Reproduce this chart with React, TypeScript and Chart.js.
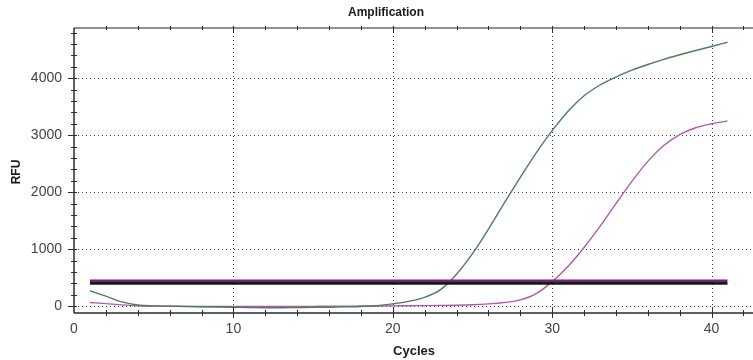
import React, { useEffect, useRef } from "react";
import { Chart, registerables } from "chart.js";

Chart.register(...registerables);

const cycles = [
  1, 2, 3, 4, 5, 6, 7, 8, 9, 10, 11, 12, 13, 14, 15, 16, 17, 18, 19, 20, 21,
  22, 23, 24, 25, 26, 27, 28, 29, 30, 31, 32, 33, 34, 35, 36, 37, 38, 39, 40, 41,
];
const greenRFU = [
  270, 175, 75, 20, 5, 0, -5, -10, -15, -20, -25, -28, -28, -25, -22, -18, -12,
  -5, 8, 40, 85, 155, 290, 560, 920, 1350, 1810, 2260, 2690, 3080, 3420, 3690,
  3880, 4020, 4140, 4240, 4330, 4410, 4485, 4555, 4630,
];
const purpleRFU = [
  65, 45, 22, 8, 2, 0, -3, -5, -5, -5, -5, -5, -5, -5, -3, 0, 0, 2, 3, 5, 8,
  10, 13, 17, 25, 40, 65, 110, 220, 430, 700, 1030, 1400, 1800, 2190, 2540,
  2820, 3010, 3130, 3200, 3250,
];
const thresholdCycles = [1, 41];
const purpleThreshold = 445;
const blackThreshold = 400;
const xTickValues = [0, 10, 20, 30, 40];
const yTickValues = [0, 1000, 2000, 3000, 4000];
const xMinorStep = 2;
const yMinorStep = 200;
const chartTitle = "Amplification";
const xTitle = "Cycles";
const yTitle = "RFU";

const FONT = "'Liberation Sans', Arial, Helvetica, sans-serif";

export default function App() {
  const ref = useRef<HTMLCanvasElement>(null);

  useEffect(() => {
    document.body.style.margin = "0";
    const canvas = ref.current;
    if (!canvas) return;

    const decor = {
      id: "decor",
      beforeDatasetsDraw(chart: any) {
        const { ctx, chartArea: a, scales } = chart;
        const x = scales.x;
        const y = scales.y;
        ctx.save();
        ctx.strokeStyle = "#3a3a3a";
        ctx.lineWidth = 1;
        ctx.setLineDash([1, 3]);
        yTickValues.forEach((v) => {
          const py = Math.round(y.getPixelForValue(v)) + 0.5;
          ctx.beginPath();
          ctx.moveTo(a.left, py);
          ctx.lineTo(a.right, py);
          ctx.stroke();
        });
        xTickValues.forEach((v) => {
          if (v === 0) return;
          const px = Math.round(x.getPixelForValue(v)) + 0.5;
          ctx.beginPath();
          ctx.moveTo(px, a.top);
          ctx.lineTo(px, a.bottom);
          ctx.stroke();
        });
        ctx.restore();
      },
      afterDraw(chart: any) {
        const { ctx, chartArea: a, scales } = chart;
        const x = scales.x;
        const y = scales.y;
        ctx.save();
        ctx.setLineDash([]);
        ctx.strokeStyle = "#2b2b2b";
        ctx.lineWidth = 1.5;
        ctx.beginPath();
        ctx.moveTo(a.left, a.top);
        ctx.lineTo(a.left, a.bottom);
        ctx.stroke();
        ctx.beginPath();
        ctx.moveTo(a.left, a.bottom);
        ctx.lineTo(a.right, a.bottom);
        ctx.stroke();
        ctx.lineWidth = 1.2;
        ctx.strokeStyle = "#222";
        ctx.beginPath();
        ctx.moveTo(a.left, a.top);
        ctx.lineTo(a.right, a.top);
        ctx.stroke();

        ctx.lineWidth = 1;
        ctx.strokeStyle = "#2b2b2b";
        const yStart = Math.ceil(y.min / yMinorStep) * yMinorStep;
        for (let v = yStart; v <= y.max; v += yMinorStep) {
          const py = Math.round(y.getPixelForValue(v)) + 0.5;
          const major = yTickValues.includes(v);
          ctx.beginPath();
          ctx.moveTo(a.left - (major ? 6 : 3), py);
          ctx.lineTo(a.left + 3, py);
          ctx.stroke();
        }
        const xStart = Math.ceil(x.min / xMinorStep) * xMinorStep;
        for (let v = xStart; v <= x.max; v += xMinorStep) {
          if (v === 0) continue;
          const px = Math.round(x.getPixelForValue(v)) + 0.5;
          const major = xTickValues.includes(v);
          ctx.beginPath();
          ctx.moveTo(px, a.bottom - (major ? 6 : 3));
          ctx.lineTo(px, a.bottom + (major ? 5 : 3));
          ctx.stroke();
          ctx.beginPath();
          ctx.moveTo(px, a.top - 2);
          ctx.lineTo(px, a.top + (major ? 5 : 2));
          ctx.stroke();
        }

        ctx.fillStyle = "#1a1a1a";
        ctx.textAlign = "center";
        ctx.textBaseline = "middle";
        ctx.font = `bold 12px ${FONT}`;
        ctx.fillText(chartTitle, 386, 13);
        ctx.font = `bold 13px ${FONT}`;
        ctx.fillText(xTitle, 414, 351);
        ctx.save();
        ctx.translate(17, 172);
        ctx.rotate(-Math.PI / 2);
        ctx.font = `bold 12px ${FONT}`;
        ctx.fillText(yTitle, 0, 0);
        ctx.restore();
        ctx.restore();
      },
    };

    const pts = (ys: number[]) => cycles.map((c, i) => ({ x: c, y: ys[i] }));
    const flat = (v: number) => thresholdCycles.map((c) => ({ x: c, y: v }));

    const chart = new Chart(canvas, {
      type: "line",
      data: {
        datasets: [
          {
            label: "Threshold 1",
            data: flat(purpleThreshold),
            borderColor: "#7a1c7a",
            borderWidth: 2.6,
            pointRadius: 0,
            tension: 0,
          },
          {
            label: "Threshold 2",
            data: flat(blackThreshold),
            borderColor: "#0f1f10",
            borderWidth: 2.6,
            pointRadius: 0,
            tension: 0,
          },
          {
            label: "Sample A",
            data: pts(greenRFU),
            borderColor: "#4f7d5c",
            borderWidth: 1.4,
            pointRadius: 0,
            cubicInterpolationMode: "monotone",
          },
          {
            label: "Sample B",
            data: pts(purpleRFU),
            borderColor: "#b05aae",
            borderWidth: 1.4,
            pointRadius: 0,
            cubicInterpolationMode: "monotone",
          },
        ],
      },
      options: {
        animation: false,
        responsive: false,
        maintainAspectRatio: false,
        layout: { padding: { top: 28, left: 0, right: 0, bottom: 0 } },
        plugins: {
          legend: { display: false },
          title: { display: false },
          tooltip: { enabled: false },
        },
        scales: {
          x: {
            type: "linear",
            min: 0,
            max: 42.6,
            grid: { display: false, drawTicks: false },
            border: { display: false },
            afterBuildTicks: (s: any) => {
              s.ticks = xTickValues.map((v) => ({ value: v }));
            },
            afterFit: (s: any) => {
              s.height = 47;
            },
            ticks: {
              padding: 8,
              color: "#444",
              font: { family: FONT, size: 14 },
              maxRotation: 0,
              autoSkip: false,
              callback: (v: any) => String(v),
            },
          },
          y: {
            type: "linear",
            min: -120,
            max: 4880,
            grid: { display: false, drawTicks: false },
            border: { display: false },
            afterBuildTicks: (s: any) => {
              s.ticks = yTickValues.map((v) => ({ value: v }));
            },
            afterFit: (s: any) => {
              s.width = 74;
            },
            ticks: {
              padding: 12,
              color: "#444",
              font: { family: FONT, size: 14 },
              autoSkip: false,
              callback: (v: any) => String(v),
            },
          },
        },
      },
      plugins: [decor],
    } as any);

    return () => chart.destroy();
  }, []);

  return (
    <div style={{ width: 753, height: 360, background: "#fff" }}>
      <canvas ref={ref} width={753} height={360} style={{ display: "block" }} />
    </div>
  );
}
